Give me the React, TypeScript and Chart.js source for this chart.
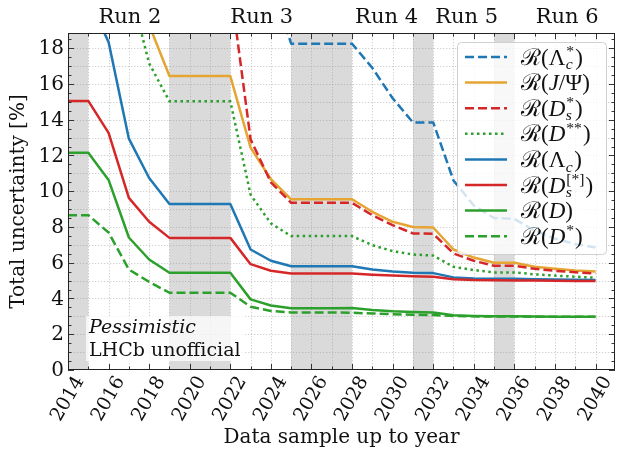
import React, { useEffect, useRef } from 'react';
import { Chart, registerables } from 'chart.js';

Chart.register(...registerables);

// ---------------- data ----------------
const YEARS = [2014, 2015, 2016, 2017, 2018, 2019, 2020, 2021, 2022, 2023, 2024, 2025, 2026, 2027,
  2028, 2029, 2030, 2031, 2032, 2033, 2034, 2035, 2036, 2037, 2038, 2039, 2040];

const R_LAMBDAC_STAR = [40, 40, 35, 30, 27, 25, 25, 25, 25, 23, 21.75, 18.25, 18.25, 18.25,
  18.25, 16.9, 15.2, 13.85, 13.85, 10.6, 9.2, 8.5, 8.45, 7.8, 7.35, 7.05, 6.85];
const R_JPSI = [38, 38, 32, 24, 19.3, 16.44, 16.44, 16.44, 16.44, 12.44, 10.67, 9.55, 9.55, 9.55,
  9.55, 8.85, 8.29, 8.0, 7.97, 6.74, 6.29, 6.0, 6.0, 5.77, 5.66, 5.57, 5.51];
const R_DS_STAR = [40, 40, 35, 30, 26, 21.5, 21.5, 21.5, 21.5, 12.9, 10.5, 9.35, 9.35, 9.35,
  9.35, 8.66, 8.1, 7.64, 7.62, 6.52, 6.11, 5.83, 5.83, 5.66, 5.55, 5.47, 5.4];
const R_DSS = [30, 30, 26, 21.6, 17.15, 15.03, 15.03, 15.03, 15.03, 9.8, 8.2, 7.49, 7.49, 7.49,
  7.49, 6.98, 6.65, 6.46, 6.4, 5.77, 5.59, 5.46, 5.46, 5.35, 5.28, 5.22, 5.16];
const R_LAMBDAC = [20.8, 20.8, 18.34, 12.94, 10.74, 9.29, 9.29, 9.29, 9.29, 6.74, 6.11, 5.8, 5.8, 5.8,
  5.8, 5.62, 5.51, 5.44, 5.42, 5.18, 5.12, 5.1, 5.1, 5.08, 5.06, 5.05, 5.04];
const R_DS = [15.05, 15.05, 13.26, 9.63, 8.29, 7.39, 7.39, 7.39, 7.39, 5.92, 5.55, 5.4, 5.4, 5.4,
  5.4, 5.33, 5.28, 5.25, 5.22, 5.08, 5.03, 5.02, 5.0, 5.0, 4.99, 4.98, 4.98];
const R_D = [12.15, 12.15, 10.63, 7.41, 6.18, 5.44, 5.44, 5.44, 5.44, 3.95, 3.61, 3.45, 3.45, 3.45,
  3.47, 3.35, 3.28, 3.25, 3.22, 3.06, 3.02, 3.0, 3.0, 2.99, 2.98, 2.98, 2.98];
const R_DSTAR = [8.66, 8.66, 7.69, 5.62, 4.93, 4.32, 4.32, 4.32, 4.32, 3.54, 3.3, 3.22, 3.22, 3.22,
  3.2, 3.16, 3.12, 3.09, 3.07, 3.02, 3.0, 2.99, 2.99, 2.98, 2.98, 2.98, 2.98];

const SHUTDOWNS: [number, number][] = [[2014, 2015], [2019, 2022], [2025, 2028], [2031, 2032], [2035, 2036]];
const RUN_LABELS = ['Run 2', 'Run 3', 'Run 4', 'Run 5', 'Run 6'];
const RUN_LABEL_YEARS = [2017.05, 2023.55, 2029.7, 2033.65, 2038.6];

const X_TICKS = [2014, 2016, 2018, 2020, 2022, 2024, 2026, 2028, 2030, 2032, 2034, 2036, 2038, 2040];
const Y_TICKS = [0, 2, 4, 6, 8, 10, 12, 14, 16, 18];

type Part = { t: string; it?: boolean; sup?: string; sub?: string };
const LABELS: Part[][] = [
  [{ t: 'ℛ(' }, { t: 'Λ', sup: '*', sub: 'c' }, { t: ')' }],
  [{ t: 'ℛ(' }, { t: 'J', it: true }, { t: '/Ψ)' }],
  [{ t: 'ℛ(' }, { t: 'D', it: true, sup: '*', sub: 's' }, { t: ')' }],
  [{ t: 'ℛ(' }, { t: 'D', it: true, sup: '**' }, { t: ')' }],
  [{ t: 'ℛ(' }, { t: 'Λ', sub: 'c' }, { t: ')' }],
  [{ t: 'ℛ(' }, { t: 'D', it: true, sup: '[*]', sub: 's' }, { t: ')' }],
  [{ t: 'ℛ(' }, { t: 'D', it: true }, { t: ')' }],
  [{ t: 'ℛ(' }, { t: 'D', it: true, sup: '*' }, { t: ')' }],
];

const BLUE = '#1f77b4';
const YELLOW = '#e6a532';
const RED = '#d62728';
const GREEN = '#2ca02c';

const SERIES = [
  { values: R_LAMBDAC_STAR, color: BLUE, dash: [9, 4] },
  { values: R_JPSI, color: YELLOW, dash: [] },
  { values: R_DS_STAR, color: RED, dash: [9, 4] },
  { values: R_DSS, color: GREEN, dash: [2.5, 3.5] },
  { values: R_LAMBDAC, color: BLUE, dash: [] },
  { values: R_DS, color: RED, dash: [] },
  { values: R_D, color: GREEN, dash: [] },
  { values: R_DSTAR, color: GREEN, dash: [9, 4] },
];

const SERIF = '"DejaVu Serif", serif';
const MATH = '"Liberation Serif", "DejaVu Serif", serif';

function drawMath(ctx: CanvasRenderingContext2D, x: number, y: number, parts: Part[], size: number) {
  let cx = x;
  for (const p of parts) {
    ctx.font = `${p.it ? 'italic ' : ''}${size}px ${MATH}`;
    ctx.fillText(p.t, cx, y);
    cx += ctx.measureText(p.t).width;
    if (p.sup || p.sub) {
      const s = size * 0.68;
      let w = 0;
      if (p.sup) {
        ctx.font = `${s}px ${MATH}`;
        ctx.fillText(p.sup, cx + 1, y - size * 0.38);
        w = Math.max(w, ctx.measureText(p.sup).width);
      }
      if (p.sub) {
        ctx.font = `italic ${s}px ${MATH}`;
        ctx.fillText(p.sub, cx + 0.5, y + size * 0.2);
        w = Math.max(w, ctx.measureText(p.sub).width);
      }
      cx += w + 2;
    }
  }
}

const decor = {
  id: 'decor',
  beforeDatasetsDraw(chart: any) {
    const { ctx, chartArea: a, scales } = chart;
    const xs = scales.x, ys = scales.y;
    ctx.save();
    ctx.fillStyle = '#dadada';
    for (const [s, e] of SHUTDOWNS) {
      const x0 = xs.getPixelForValue(s), x1 = xs.getPixelForValue(e);
      ctx.fillRect(x0, a.top, x1 - x0, a.bottom - a.top);
    }
    ctx.strokeStyle = 'rgba(140,140,140,0.5)';
    ctx.lineWidth = 0.8;
    ctx.setLineDash([1.3, 1.7]);
    for (let yr = 2015; yr <= 2040; yr++) {
      const px = Math.round(xs.getPixelForValue(yr)) + 0.5;
      ctx.beginPath(); ctx.moveTo(px, a.top); ctx.lineTo(px, a.bottom); ctx.stroke();
    }
    for (let v = 1; v <= 18; v++) {
      const py = Math.round(ys.getPixelForValue(v)) + 0.5;
      ctx.beginPath(); ctx.moveTo(a.left, py); ctx.lineTo(a.right, py); ctx.stroke();
    }
    ctx.restore();
  },
  afterDatasetsDraw(chart: any) {
    const { ctx, chartArea: a, scales } = chart;
    const xs = scales.x, ys = scales.y;
    ctx.save();
    // frame
    ctx.strokeStyle = '#222';
    ctx.lineWidth = 1;
    ctx.strokeRect(a.left + 0.5, a.top + 0.5, a.right - a.left - 1, a.bottom - a.top - 1);
    // ticks
    ctx.lineWidth = 0.9;
    for (let yr = 2014; yr <= 2040; yr++) {
      const px = Math.round(xs.getPixelForValue(yr)) + 0.5;
      const len = yr % 2 === 0 ? 6 : 3.5;
      ctx.beginPath();
      ctx.moveTo(px, a.bottom); ctx.lineTo(px, a.bottom - len);
      ctx.moveTo(px, a.top); ctx.lineTo(px, a.top + len);
      ctx.stroke();
    }
    for (let v = 0; v <= 18.8; v += 0.5) {
      const py = Math.round(ys.getPixelForValue(v)) + 0.5;
      const len = v % 2 === 0 ? 6 : 3.5;
      ctx.beginPath();
      ctx.moveTo(a.left, py); ctx.lineTo(a.left + len, py);
      ctx.moveTo(a.right, py); ctx.lineTo(a.right - len, py);
      ctx.stroke();
    }
    ctx.fillStyle = '#111';
    // y tick labels
    ctx.font = `20px ${SERIF}`;
    ctx.textAlign = 'right';
    ctx.textBaseline = 'middle';
    for (const v of Y_TICKS) ctx.fillText(String(v), a.left - 4, ys.getPixelForValue(v) + 1);
    // x tick labels rotated
    ctx.font = `19px ${SERIF}`;
    ctx.textAlign = 'center';
    const ang = 60 * Math.PI / 180;
    for (const yr of X_TICKS) {
      const txt = String(yr);
      const w = ctx.measureText(txt).width;
      const h = 14;
      const H = w * Math.sin(ang) + h * Math.cos(ang);
      const cx = xs.getPixelForValue(yr) - 1;
      const cy = a.bottom + 4 + H / 2;
      ctx.save();
      ctx.translate(cx, cy);
      ctx.rotate(-ang);
      ctx.fillText(txt, 0, 1);
      ctx.restore();
    }
    // axis titles
    ctx.font = `20px ${SERIF}`;
    ctx.textAlign = 'center';
    ctx.textBaseline = 'middle';
    ctx.fillText('Data sample up to year', (a.left + a.right) / 2, 438);
    ctx.save();
    ctx.translate(19, (a.top + a.bottom) / 2);
    ctx.rotate(-Math.PI / 2);
    ctx.fillText('Total uncertainty [%]', 0, 0);
    ctx.restore();
    // run labels
    ctx.font = `21px ${SERIF}`;
    RUN_LABELS.forEach((t, i) => ctx.fillText(t, xs.getPixelForValue(RUN_LABEL_YEARS[i]), 18));
    // annotation box
    ctx.fillStyle = 'rgba(255,255,255,0.75)';
    ctx.fillRect(86, 316, 158, 45);
    ctx.fillStyle = '#111';
    ctx.textAlign = 'left';
    ctx.textBaseline = 'alphabetic';
    ctx.font = `italic 19px ${SERIF}`;
    ctx.fillText('Pessimistic', 89, 333);
    ctx.font = `19px ${SERIF}`;
    ctx.fillText('LHCb unofficial', 89, 356);
    // legend
    const lx = 457, ly = 42, lw = 149, lh = 212;
    ctx.beginPath();
    ctx.roundRect(lx + 0.5, ly + 0.5, lw, lh, 4);
    ctx.fillStyle = 'rgba(255,255,255,0.8)';
    ctx.fill();
    ctx.strokeStyle = '#d0d0d0';
    ctx.lineWidth = 1;
    ctx.stroke();
    const ds = chart.data.datasets;
    LABELS.forEach((parts, i) => {
      const yy = 57 + i * 25.6;
      ctx.strokeStyle = ds[i].borderColor;
      ctx.lineWidth = 2.5;
      ctx.setLineDash(ds[i].borderDash || []);
      ctx.beginPath(); ctx.moveTo(465, yy); ctx.lineTo(507, yy); ctx.stroke();
      ctx.setLineDash([]);
      ctx.fillStyle = '#111';
      drawMath(ctx, 521, yy + 7.5, parts, 23);
    });
    ctx.restore();
  },
};

export default function App() {
  const ref = useRef<HTMLCanvasElement>(null);
  useEffect(() => {
    if (!ref.current) return;
    const n = SERIES.length;
    const chart = new Chart(ref.current, {
      type: 'line',
      data: {
        datasets: SERIES.map((s, i) => ({
          data: YEARS.map((x, j) => ({ x, y: s.values[j] })),
          borderColor: s.color,
          borderDash: s.dash,
          borderWidth: 2.5,
          pointRadius: 0,
          tension: 0,
          fill: false,
          borderJoinStyle: 'round' as const,
          order: n - i,
          clip: 0,
        })),
      },
      options: {
        animation: false,
        responsive: false,
        devicePixelRatio: 1,
        layout: { padding: { top: 33, right: 2, left: 0, bottom: 0 } },
        plugins: { legend: { display: false }, tooltip: { enabled: false } },
        events: [],
        scales: {
          x: {
            type: 'linear', min: 2014, max: 2040.96,
            ticks: { display: false }, grid: { display: false }, border: { display: false },
            afterFit: (s: any) => { s.height = 82; },
          },
          y: {
            type: 'linear', min: 0, max: 18.85,
            ticks: { display: false }, grid: { display: false }, border: { display: false },
            afterFit: (s: any) => { s.width = 68; },
          },
        },
      },
      plugins: [decor],
    });
    return () => chart.destroy();
  }, []);
  return (
    <div style={{ position: 'absolute', left: 0, top: 0, width: 617, height: 452, background: '#fff' }}>
      <canvas ref={ref} width={617} height={452} style={{ width: 617, height: 452, display: 'block' }} />
    </div>
  );
}
